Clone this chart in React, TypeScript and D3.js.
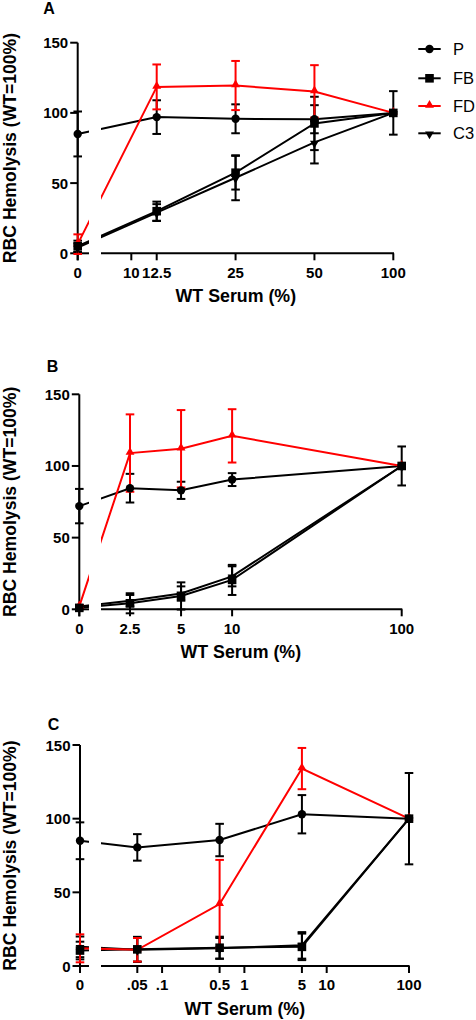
import React from "react";
import * as d3 from "d3";

// ---------- DATA ----------
const seriesNames = ["P", "FB", "FD", "C3"];
const yTicks = [0, 50, 100, 150];

// Panel A
const xA = [0, 12.5, 25, 50, 100];
const xTicksA = [0, 10, 12.5, 25, 50, 100];
const xTickLabelsA = ["0", "10", "12.5", "25", "50", "100"];
const pA = [85, 97, 95.8, 95.5, 100];
const pAerr = [16, 12, 10.3, 10, 0];
const fbA = [5, 30, 57.4, 92.5, 100];
const fbAerr = [4, 6.8, 12, 19, 15.5];
const fdA = [6.5, 118.5, 119.5, 115.3, 100];
const fdAerr = [7, 16, 17.5, 18.7, 0];
const c3A = [4, 29, 53.8, 79, 100];
const c3Aerr = [3, 6, 16, 15, 0];

// Panel B
const xB = [0, 2.5, 5, 10, 100];
const xTicksB = [0, 2.5, 5, 10, 100];
const xTickLabelsB = ["0", "2.5", "5", "10", "100"];
const pB = [72, 84.5, 83, 90.5, 100];
const pBerr = [12, 10, 6, 4.5, 0];
const fbB = [1, 4.2, 9.3, 20.5, 100];
const fbBerr = [1, 7, 9.5, 10.5, 13.6];
const fdB = [2, 109, 112, 121, 100];
const fdBerr = [1, 27, 27, 18.6, 0];
const c3B = [2, 6, 11, 23, 100];
const c3Berr = [1, 4, 5, 7, 0];

// Panel C
const xC = [0, 0.05, 0.5, 5, 100];
const xTicksC = [0, 0.05, 0.1, 0.5, 1, 5, 10, 100];
const xTickLabelsC = ["0", ".05", ".1", "0.5", "1", "5", "10", "100"];
const pC = [85, 80.5, 85.5, 103, 100];
const pCerr = [12.5, 9, 11, 13, 31];
const fbC = [10.5, 11.3, 12.4, 13, 100];
const fbCerr = [6, 8.5, 7.5, 9, 0];
const fdC = [12, 11, 42, 134, 100];
const fdCerr = [9.5, 8, 30, 14, 0];
const c3C = [13, 11, 12, 14, 100];
const c3Cerr = [7, 8, 7, 9, 0];

// ---------- STYLE / LAYOUT ----------
const FONT = "'Liberation Sans', Arial, Helvetica, sans-serif";
const RED = "#ff0000";
const BLACK = "#000000";
const BREAK_L = 89;
const BREAK_R = 101;

type Series = { name: string; values: number[]; err: number[]; color: string; shape: string };

type PanelCfg = {
  id: string;
  label: string;
  labelX: number;
  labelY: number;
  xs: number[];
  ticks: number[];
  tickLabels: string[];
  logDomain: [number, number];
  logRange: [number, number];
  xZero: number;
  axisEnd: number;
  yRange: [number, number];
  series: Series[];
  legend: boolean;
};

const shapeOf: Record<string, string> = { P: "circle", FB: "square", FD: "up", C3: "down" };
const colorOf: Record<string, string> = { P: BLACK, FB: BLACK, FD: RED, C3: BLACK };

function mk(name: string, values: number[], err: number[]): Series {
  return { name, values, err, color: colorOf[name], shape: shapeOf[name] };
}

function Marker({ shape, x, y, color }: { shape: string; x: number; y: number; color: string }) {
  if (shape === "circle") return <circle cx={x} cy={y} r={4.2} fill={color} />;
  if (shape === "square") return <rect x={x - 4.3} y={y - 4.3} width={8.6} height={8.6} fill={color} />;
  const p = d3.symbol().type(d3.symbolTriangle).size(34)() as string;
  return (
    <path d={p} fill={color} transform={`translate(${x},${y + (shape === "down" ? 0.8 : -0.8)}) rotate(${shape === "down" ? 180 : 0})`} />
  );
}

function Panel({ cfg }: { cfg: PanelCfg }) {
  const xl = d3.scaleLog().domain(cfg.logDomain).range(cfg.logRange);
  const xf = (v: number) => (v === 0 ? cfg.xZero : xl(v));
  const y = d3.scaleLinear().domain([0, 150]).range(cfg.yRange);
  const y0 = y(0);
  const yTop = y(150);
  const clipId = `clip-${cfg.id}`;
  const lineOrder = ["P", "FB", "C3", "FD"];
  const markerOrder = ["FD", "P", "FB", "C3"];
  const byName = (n: string) => cfg.series.find((s) => s.name === n)!;
  const line = d3
    .line<number>()
    .x((_, i) => xf(cfg.xs[i]))
    .y((v) => y(v));
  const capW = 4.3;
  return (
    <g>
      <defs>
        <clipPath id={clipId}>
          <rect x={0} y={yTop - 40} width={BREAK_L} height={y0 - yTop + 80} />
          <rect x={BREAK_R} y={yTop - 40} width={476 - BREAK_R} height={y0 - yTop + 80} />
        </clipPath>
      </defs>
      {/* panel label */}
      <text x={cfg.labelX} y={cfg.labelY} fontFamily={FONT} fontWeight="bold" fontSize={16}>
        {cfg.label}
      </text>
      {/* y axis */}
      <line x1={cfg.xZero} x2={cfg.xZero} y1={yTop} y2={y0 + 7} stroke={BLACK} strokeWidth={2} />
      {yTicks.map((t) => (
        <g key={t}>
          <line x1={cfg.xZero - 7.5} x2={cfg.xZero} y1={y(t)} y2={y(t)} stroke={BLACK} strokeWidth={2} />
          <text
            x={cfg.xZero - 9.5}
            y={y(t)}
            textAnchor="end"
            dominantBaseline="central"
            fontFamily={FONT}
            fontWeight="bold"
            fontSize={15}
          >
            {t}
          </text>
        </g>
      ))}
      {/* x axis (broken) */}
      <line x1={cfg.xZero} x2={BREAK_L} y1={y0} y2={y0} stroke={BLACK} strokeWidth={2} />
      <line x1={BREAK_R} x2={cfg.axisEnd} y1={y0} y2={y0} stroke={BLACK} strokeWidth={2} />
      {cfg.ticks.map((t, i) => (
        <g key={i}>
          <line x1={xf(t)} x2={xf(t)} y1={y0} y2={y0 + 7} stroke={BLACK} strokeWidth={2} />
          <text x={xf(t)} y={y0 + 24.3} textAnchor="middle" fontFamily={FONT} fontWeight="bold" fontSize={15}>
            {cfg.tickLabels[i]}
          </text>
        </g>
      ))}
      {/* axis titles */}
      <text
        x={(cfg.xZero + cfg.axisEnd) / 2}
        y={y0 + 48.7}
        textAnchor="middle"
        fontFamily={FONT}
        fontWeight="bold"
        fontSize={17.8}
      >
        WT Serum (%)
      </text>
      <text
        transform={`translate(15.5,${(y0 + yTop) / 2}) rotate(-90)`}
        textAnchor="middle"
        fontFamily={FONT}
        fontWeight="bold"
        fontSize={17.6}
      >
        RBC Hemolysis (WT=100%)
      </text>
      {/* error bars and lines */}
      {lineOrder.map(byName).map((s) => (
        <g key={s.name}>
          {s.values.map((v, i) =>
            s.err[i] > 0 ? (
              <g key={i}>
                <line
                  x1={xf(cfg.xs[i])}
                  x2={xf(cfg.xs[i])}
                  y1={y(v - s.err[i])}
                  y2={y(v + s.err[i])}
                  stroke={s.color}
                  strokeWidth={2}
                />
                <line
                  x1={xf(cfg.xs[i]) - capW}
                  x2={xf(cfg.xs[i]) + capW}
                  y1={y(v + s.err[i])}
                  y2={y(v + s.err[i])}
                  stroke={s.color}
                  strokeWidth={2}
                />
                <line
                  x1={xf(cfg.xs[i]) - capW}
                  x2={xf(cfg.xs[i]) + capW}
                  y1={y(v - s.err[i])}
                  y2={y(v - s.err[i])}
                  stroke={s.color}
                  strokeWidth={2}
                />
              </g>
            ) : null
          )}
          <path d={line(s.values) as string} fill="none" stroke={s.color} strokeWidth={2} clipPath={`url(#${clipId})`} />
        </g>
      ))}
      {/* markers */}
      {markerOrder.map(byName).map((s) => (
        <g key={s.name}>
          {s.values.map((v, i) => (
            <Marker key={i} shape={s.shape} x={xf(cfg.xs[i])} y={y(v)} color={s.color} />
          ))}
        </g>
      ))}
      {/* legend */}
      {cfg.legend &&
        seriesNames.map((n, i) => {
          const ly = [49, 78.3, 106, 133.3][i];
          return (
            <g key={n}>
              <line x1={418.3} x2={440.7} y1={ly} y2={ly} stroke={colorOf[n]} strokeWidth={2} />
              <Marker shape={shapeOf[n]} x={429.5} y={ly} color={colorOf[n]} />
              <text x={453} y={ly} dominantBaseline="central" fontFamily={FONT} fontSize={16.5} fill={BLACK}>
                {n}
              </text>
            </g>
          );
        })}
    </g>
  );
}

const panels: PanelCfg[] = [
  {
    id: "A",
    label: "A",
    labelX: 43.3,
    labelY: 14,
    xs: xA,
    ticks: xTicksA,
    tickLabels: xTickLabelsA,
    logDomain: [12.5, 100],
    logRange: [156.7, 393.3],
    xZero: 77.7,
    axisEnd: 394,
    yRange: [253.3, 42.7],
    series: [mk("P", pA, pAerr), mk("FB", fbA, fbAerr), mk("FD", fdA, fdAerr), mk("C3", c3A, c3Aerr)],
    legend: true,
  },
  {
    id: "B",
    label: "B",
    labelX: 46.7,
    labelY: 371.7,
    xs: xB,
    ticks: xTicksB,
    tickLabels: xTickLabelsB,
    logDomain: [2.5, 100],
    logRange: [130, 401.7],
    xZero: 79.3,
    axisEnd: 402.3,
    yRange: [609.3, 394.3],
    series: [mk("P", pB, pBerr), mk("FB", fbB, fbBerr), mk("FD", fdB, fdBerr), mk("C3", c3B, c3Berr)],
    legend: false,
  },
  {
    id: "C",
    label: "C",
    labelX: 47.7,
    labelY: 730,
    xs: xC,
    ticks: xTicksC,
    tickLabels: xTickLabelsC,
    logDomain: [0.05, 100],
    logRange: [137.3, 409],
    xZero: 80,
    axisEnd: 409.6,
    yRange: [966, 745],
    series: [mk("P", pC, pCerr), mk("FB", fbC, fbCerr), mk("FD", fdC, fdCerr), mk("C3", c3C, c3Cerr)],
    legend: false,
  },
];

export default function App() {
  return (
    <svg
      width={476}
      height={1020}
      viewBox="0 0 476 1020"
      style={{ position: "absolute", left: 0, top: 0, background: "#fff" }}
    >
      <rect width={476} height={1020} fill="#fff" />
      {panels.map((p) => (
        <Panel key={p.id} cfg={p} />
      ))}
    </svg>
  );
}
